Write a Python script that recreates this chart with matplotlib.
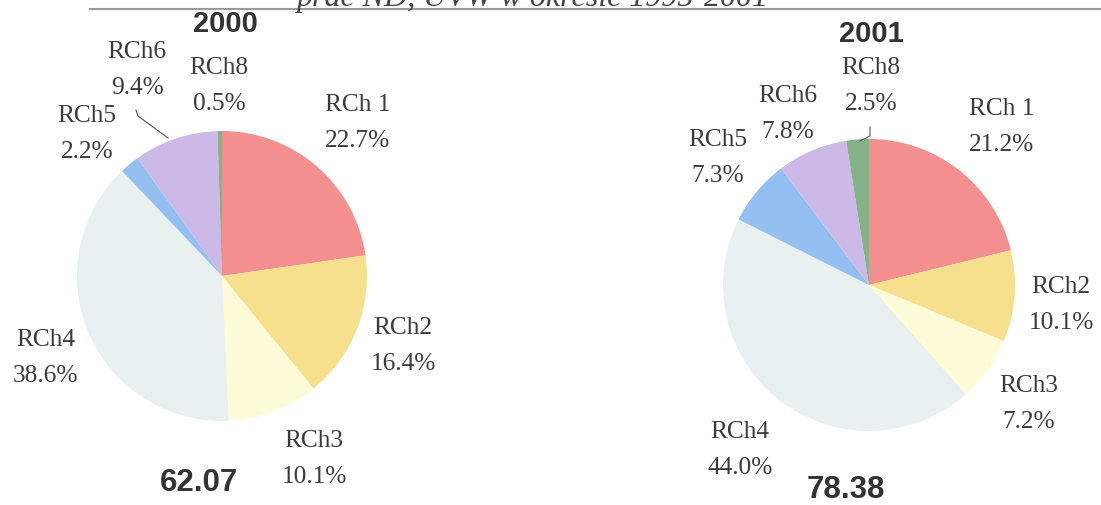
import matplotlib
matplotlib.use("Agg")
import matplotlib.pyplot as plt

# ---- data ----
categories = ["RCh 1", "RCh2", "RCh3", "RCh4", "RCh5", "RCh6", "RCh8"]
shares_2000 = [22.7, 16.4, 10.1, 38.6, 2.2, 9.4, 0.5]
shares_2001 = [21.2, 10.1, 7.2, 44.0, 7.3, 7.8, 2.5]
years = ["2000", "2001"]
totals = ["62.07", "78.38"]
title_text = "prac ND, UVW w okresie 1995-2001"

colors = ["#F3908F", "#F6E08E", "#FDFBD8", "#E8F0F0", "#94BFF1", "#CDB9E8", "#86B28A"]

W, H = 1101, 506
fig = plt.figure(figsize=(W / 100, H / 100), dpi=100)
fig.patch.set_facecolor("white")
ax = fig.add_axes([0, 0, 1, 1])


def Y(y):  # convert from top-based pixel coordinate
    return H - y


# layout (pixel positions, from top-left)
pies = [
    dict(vals=shares_2000, center=(222, 277), r=145, year_pos=(225, 24), total_pos=(199, 483),
         labels={"RCh 1": (358, 123), "RCh2": (403, 346), "RCh3": (314, 459), "RCh4": (46, 358),
                 "RCh5": (87, 134), "RCh6": (137, 70), "RCh8": (219, 86)},
         leader=[(136, 111), (138, 117), (168, 139)]),
    dict(vals=shares_2001, center=(869, 286), r=146, year_pos=(871, 34), total_pos=(846, 490),
         labels={"RCh 1": (1002, 127), "RCh2": (1061, 305), "RCh3": (1029, 404), "RCh4": (740, 450),
                 "RCh5": (718, 158), "RCh6": (788, 114), "RCh8": (871, 86)},
         leader=[(870, 128), (870, 137), (860, 142)]),
]

serif = ["Liberation Serif", "DejaVu Serif"]
sans = ["Liberation Sans", "DejaVu Sans"]
txt_col = "#3b3b3b"

for i, p in enumerate(pies):
    cx, cy = p["center"]
    vals = p["vals"]
    ax.pie(vals, colors=colors, startangle=90, counterclock=False,
           center=(cx, Y(cy)), radius=p["r"], frame=True,
           wedgeprops=dict(linewidth=0))
    total = sum(vals)
    for cat, v in zip(categories, vals):
        lx, ly = p["labels"][cat]
        ax.text(lx, Y(ly), f"{cat}\n{v / total * 100:.1f}%", ha="center", va="center",
                fontsize=18.3, family=serif, color=txt_col, linespacing=1.8)
    xs = [q[0] for q in p["leader"]]
    ys = [Y(q[1]) for q in p["leader"]]
    ax.plot(xs, ys, color="#555555", lw=0.8)
    ax.text(p["year_pos"][0], Y(p["year_pos"][1]), years[i], ha="center", va="center",
            fontsize=21, family=sans, fontweight="bold", color="#333333")
    ax.text(p["total_pos"][0], Y(p["total_pos"][1]), totals[i], ha="center", va="center",
            fontsize=22.5, family=sans, fontweight="bold", color="#333333")

# cut-off title and rule at the very top
ax.text(533, Y(6), title_text, ha="center", va="baseline", fontsize=23,
        family=serif, style="italic", color="#444444")
ax.plot([90, W], [Y(9.5), Y(9.5)], color="#9a9a9a", lw=1.5)

ax.set_xlim(0, W)
ax.set_ylim(0, H)
ax.set_aspect("auto")
ax.axis("off")

fig.savefig("out.png", dpi=100, facecolor="white")
